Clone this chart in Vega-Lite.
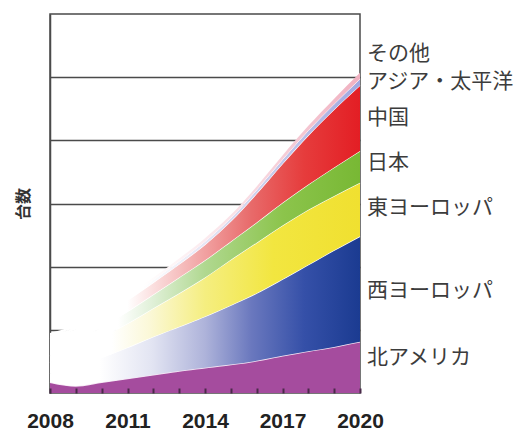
{
  "$schema": "https://vega.github.io/schema/vega-lite/v6.json",
  "autosize": "none",
  "width": 310,
  "height": 379,
  "padding": {"left": 50, "top": 14, "right": 168, "bottom": 38},
  "background": "white",
  "config": {"view": {"stroke": "#4a4a4a", "strokeWidth": 1.5}},
  "datasets": {
    "sales": [
      {"year": 2008, "region": "北アメリカ", "k": 1, "value": 0.17},
      {"year": 2009, "region": "北アメリカ", "k": 1, "value": 0.11},
      {"year": 2010, "region": "北アメリカ", "k": 1, "value": 0.17},
      {"year": 2011, "region": "北アメリカ", "k": 1, "value": 0.23},
      {"year": 2012, "region": "北アメリカ", "k": 1, "value": 0.29},
      {"year": 2013, "region": "北アメリカ", "k": 1, "value": 0.35},
      {"year": 2014, "region": "北アメリカ", "k": 1, "value": 0.40},
      {"year": 2015, "region": "北アメリカ", "k": 1, "value": 0.45},
      {"year": 2016, "region": "北アメリカ", "k": 1, "value": 0.51},
      {"year": 2017, "region": "北アメリカ", "k": 1, "value": 0.59},
      {"year": 2018, "region": "北アメリカ", "k": 1, "value": 0.66},
      {"year": 2019, "region": "北アメリカ", "k": 1, "value": 0.73},
      {"year": 2020, "region": "北アメリカ", "k": 1, "value": 0.81},
      {"year": 2008, "region": "西ヨーロッパ", "k": 2, "value": 0.13},
      {"year": 2009, "region": "西ヨーロッパ", "k": 2, "value": 0.31},
      {"year": 2010, "region": "西ヨーロッパ", "k": 2, "value": 0.39},
      {"year": 2011, "region": "西ヨーロッパ", "k": 2, "value": 0.49},
      {"year": 2012, "region": "西ヨーロッパ", "k": 2, "value": 0.60},
      {"year": 2013, "region": "西ヨーロッパ", "k": 2, "value": 0.70},
      {"year": 2014, "region": "西ヨーロッパ", "k": 2, "value": 0.81},
      {"year": 2015, "region": "西ヨーロッパ", "k": 2, "value": 0.94},
      {"year": 2016, "region": "西ヨーロッパ", "k": 2, "value": 1.07},
      {"year": 2017, "region": "西ヨーロッパ", "k": 2, "value": 1.21},
      {"year": 2018, "region": "西ヨーロッパ", "k": 2, "value": 1.37},
      {"year": 2019, "region": "西ヨーロッパ", "k": 2, "value": 1.53},
      {"year": 2020, "region": "西ヨーロッパ", "k": 2, "value": 1.67},
      {"year": 2008, "region": "東ヨーロッパ", "k": 3, "value": 0.18},
      {"year": 2009, "region": "東ヨーロッパ", "k": 3, "value": 0.25},
      {"year": 2010, "region": "東ヨーロッパ", "k": 3, "value": 0.32},
      {"year": 2011, "region": "東ヨーロッパ", "k": 3, "value": 0.38},
      {"year": 2012, "region": "東ヨーロッパ", "k": 3, "value": 0.45},
      {"year": 2013, "region": "東ヨーロッパ", "k": 3, "value": 0.53},
      {"year": 2014, "region": "東ヨーロッパ", "k": 3, "value": 0.62},
      {"year": 2015, "region": "東ヨーロッパ", "k": 3, "value": 0.72},
      {"year": 2016, "region": "東ヨーロッパ", "k": 3, "value": 0.80},
      {"year": 2017, "region": "東ヨーロッパ", "k": 3, "value": 0.85},
      {"year": 2018, "region": "東ヨーロッパ", "k": 3, "value": 0.87},
      {"year": 2019, "region": "東ヨーロッパ", "k": 3, "value": 0.86},
      {"year": 2020, "region": "東ヨーロッパ", "k": 3, "value": 0.85},
      {"year": 2008, "region": "日本", "k": 4, "value": 0.10},
      {"year": 2009, "region": "日本", "k": 4, "value": 0.13},
      {"year": 2010, "region": "日本", "k": 4, "value": 0.16},
      {"year": 2011, "region": "日本", "k": 4, "value": 0.19},
      {"year": 2012, "region": "日本", "k": 4, "value": 0.22},
      {"year": 2013, "region": "日本", "k": 4, "value": 0.25},
      {"year": 2014, "region": "日本", "k": 4, "value": 0.27},
      {"year": 2015, "region": "日本", "k": 4, "value": 0.29},
      {"year": 2016, "region": "日本", "k": 4, "value": 0.32},
      {"year": 2017, "region": "日本", "k": 4, "value": 0.36},
      {"year": 2018, "region": "日本", "k": 4, "value": 0.40},
      {"year": 2019, "region": "日本", "k": 4, "value": 0.45},
      {"year": 2020, "region": "日本", "k": 4, "value": 0.50},
      {"year": 2008, "region": "中国", "k": 5, "value": 0.28},
      {"year": 2009, "region": "中国", "k": 5, "value": 0.20},
      {"year": 2010, "region": "中国", "k": 5, "value": 0.18},
      {"year": 2011, "region": "中国", "k": 5, "value": 0.18},
      {"year": 2012, "region": "中国", "k": 5, "value": 0.19},
      {"year": 2013, "region": "中国", "k": 5, "value": 0.21},
      {"year": 2014, "region": "中国", "k": 5, "value": 0.25},
      {"year": 2015, "region": "中国", "k": 5, "value": 0.32},
      {"year": 2016, "region": "中国", "k": 5, "value": 0.46},
      {"year": 2017, "region": "中国", "k": 5, "value": 0.62},
      {"year": 2018, "region": "中国", "k": 5, "value": 0.78},
      {"year": 2019, "region": "中国", "k": 5, "value": 0.92},
      {"year": 2020, "region": "中国", "k": 5, "value": 1.04},
      {"year": 2008, "region": "アジア・太平洋", "k": 6, "value": 0.05},
      {"year": 2009, "region": "アジア・太平洋", "k": 6, "value": 0.04},
      {"year": 2010, "region": "アジア・太平洋", "k": 6, "value": 0.04},
      {"year": 2011, "region": "アジア・太平洋", "k": 6, "value": 0.04},
      {"year": 2012, "region": "アジア・太平洋", "k": 6, "value": 0.04},
      {"year": 2013, "region": "アジア・太平洋", "k": 6, "value": 0.045},
      {"year": 2014, "region": "アジア・太平洋", "k": 6, "value": 0.05},
      {"year": 2015, "region": "アジア・太平洋", "k": 6, "value": 0.05},
      {"year": 2016, "region": "アジア・太平洋", "k": 6, "value": 0.055},
      {"year": 2017, "region": "アジア・太平洋", "k": 6, "value": 0.065},
      {"year": 2018, "region": "アジア・太平洋", "k": 6, "value": 0.075},
      {"year": 2019, "region": "アジア・太平洋", "k": 6, "value": 0.085},
      {"year": 2020, "region": "アジア・太平洋", "k": 6, "value": 0.10},
      {"year": 2008, "region": "その他", "k": 7, "value": 0.04},
      {"year": 2009, "region": "その他", "k": 7, "value": 0.04},
      {"year": 2010, "region": "その他", "k": 7, "value": 0.04},
      {"year": 2011, "region": "その他", "k": 7, "value": 0.04},
      {"year": 2012, "region": "その他", "k": 7, "value": 0.04},
      {"year": 2013, "region": "その他", "k": 7, "value": 0.045},
      {"year": 2014, "region": "その他", "k": 7, "value": 0.05},
      {"year": 2015, "region": "その他", "k": 7, "value": 0.05},
      {"year": 2016, "region": "その他", "k": 7, "value": 0.055},
      {"year": 2017, "region": "その他", "k": 7, "value": 0.065},
      {"year": 2018, "region": "その他", "k": 7, "value": 0.075},
      {"year": 2019, "region": "その他", "k": 7, "value": 0.085},
      {"year": 2020, "region": "その他", "k": 7, "value": 0.10}
    ],
    "labels": [
      {"label": "その他", "year": 2020, "pos": 5.36},
      {"label": "アジア・太平洋", "year": 2020, "pos": 4.92},
      {"label": "中国", "year": 2020, "pos": 4.35},
      {"label": "日本", "year": 2020, "pos": 3.64},
      {"label": "東ヨーロッパ", "year": 2020, "pos": 2.93},
      {"label": "西ヨーロッパ", "year": 2020, "pos": 1.62},
      {"label": "北アメリカ", "year": 2020, "pos": 0.55}
    ]
  },
  "encoding": {
    "x": {
      "field": "year", "type": "quantitative",
      "scale": {"domain": [2008, 2020], "nice": false, "zero": false},
      "axis": {
        "title": null, "domain": false, "grid": false, "zindex": 1,
        "values": [2008, 2009, 2010, 2011, 2012, 2013, 2014, 2015, 2016, 2017, 2018, 2019, 2020],
        "labelExpr": "(datum.value - 2008) % 3 === 0 ? datum.value : ''",
        "ticks": true, "tickSize": -5, "tickWidth": 2, "tickColor": "#4a2a4a",
        "labelFont": "Liberation Sans", "labelFontSize": 21, "labelFontWeight": "bold",
        "labelColor": "#222222", "labelPadding": 22, "labelOverlap": false, "labelFlush": false
      }
    }
  },
  "layer": [
    {
      "data": {"name": "sales"},
      "transform": [
        {"stack": "value", "groupby": ["year"], "sort": [{"field": "k", "order": "ascending"}], "as": ["v0", "v1"]}
      ],
      "encoding": {
        "y": {
          "field": "v1", "type": "quantitative",
          "scale": {"domain": [0, 6], "nice": false, "zero": true},
          "axis": {
            "title": "台数", "titleFont": "Noto Sans CJK JP", "titleFontSize": 16, "titleFontWeight": "bold",
            "titleColor": "#333333", "titlePadding": 19,
            "labels": false, "ticks": false, "domain": true, "domainColor": "#4a4a4a", "domainWidth": 1.5,
            "grid": true, "gridColor": "#4a4a4a", "gridWidth": 1.5, "values": [1, 2, 3, 4, 5]
          }
        },
        "y2": {"field": "v0"}
      },
      "layer": [
        {
          "transform": [{"filter": "datum.k === 1"}],
          "mark": {"type": "area", "interpolate": "monotone", "fill": "#a54c9e", "fillOpacity": 1,
            "line": {"color": "#f6e6f4", "strokeWidth": 1.5}}
        },
        {
          "transform": [{"filter": "datum.k === 2"}],
          "mark": {"type": "area", "interpolate": "monotone", "fillOpacity": 1,
            "fill": {"gradient": "linear", "x1": 0, "y1": 0, "x2": 1, "y2": 0,
              "stops": [
                {"offset": 0, "color": "#ffffff"}, {"offset": 0.16, "color": "#ffffff"},
                {"offset": 0.33, "color": "#e2e4f2"}, {"offset": 0.5, "color": "#aeb3da"},
                {"offset": 0.65, "color": "#6a78be"}, {"offset": 0.82, "color": "#3550a8"},
                {"offset": 1, "color": "#1b3b91"}]},
            "line": {"color": "#ffffff", "strokeWidth": 1.2}}
        },
        {
          "transform": [{"filter": "datum.k === 3"}],
          "mark": {"type": "area", "interpolate": "monotone", "fillOpacity": 1,
            "fill": {"gradient": "linear", "x1": 0, "y1": 0, "x2": 1, "y2": 0,
              "stops": [
                {"offset": 0, "color": "#ffffff"}, {"offset": 0.2, "color": "#ffffff"},
                {"offset": 0.32, "color": "#fbf8d8"}, {"offset": 0.5, "color": "#f5ee80"},
                {"offset": 0.72, "color": "#f2e640"}, {"offset": 1, "color": "#f0e030"}]},
            "line": {"color": "#ffffff", "strokeWidth": 1.2}}
        },
        {
          "transform": [{"filter": "datum.k === 4"}],
          "mark": {"type": "area", "interpolate": "monotone", "fillOpacity": 1,
            "fill": {"gradient": "linear", "x1": 0, "y1": 0, "x2": 1, "y2": 0,
              "stops": [
                {"offset": 0, "color": "#ffffff"}, {"offset": 0.22, "color": "#ffffff"},
                {"offset": 0.33, "color": "#e0f0d8"}, {"offset": 0.5, "color": "#b0d890"},
                {"offset": 0.75, "color": "#8cc44c"}, {"offset": 1, "color": "#78b834"}]},
            "line": {"color": "#ffffff", "strokeWidth": 1.2}}
        },
        {
          "transform": [{"filter": "datum.k === 5"}],
          "mark": {"type": "area", "interpolate": "monotone", "fillOpacity": 1,
            "fill": {"gradient": "linear", "x1": 0, "y1": 0, "x2": 1, "y2": 0,
              "stops": [
                {"offset": 0, "color": "#ffffff"}, {"offset": 0.25, "color": "#ffffff"},
                {"offset": 0.33, "color": "#fbe0e0"}, {"offset": 0.48, "color": "#f2a8a8"},
                {"offset": 0.65, "color": "#e86a6a"}, {"offset": 0.82, "color": "#e63c3c"},
                {"offset": 1, "color": "#e31e24"}]},
            "line": {"color": "#ffffff", "strokeWidth": 1.2}}
        },
        {
          "transform": [{"filter": "datum.k === 6"}],
          "mark": {"type": "area", "interpolate": "monotone", "fillOpacity": 1,
            "fill": {"gradient": "linear", "x1": 0, "y1": 0, "x2": 1, "y2": 0,
              "stops": [
                {"offset": 0, "color": "#ffffff"}, {"offset": 0.3, "color": "#ffffff"},
                {"offset": 0.6, "color": "#d8d8f0"}, {"offset": 1, "color": "#a0a8e0"}]},
            "line": {"color": "#ffffff", "strokeWidth": 1}}
        },
        {
          "transform": [{"filter": "datum.k === 7"}],
          "mark": {"type": "area", "interpolate": "monotone", "fillOpacity": 1,
            "fill": {"gradient": "linear", "x1": 0, "y1": 0, "x2": 1, "y2": 0,
              "stops": [
                {"offset": 0, "color": "#ffffff"}, {"offset": 0.3, "color": "#ffffff"},
                {"offset": 0.6, "color": "#fae0e6"}, {"offset": 1, "color": "#f0b0c0"}]}}
        }
      ]
    },
    {
      "data": {"name": "labels"},
      "mark": {"type": "text", "align": "left", "baseline": "middle", "dx": 7,
        "font": "Noto Sans CJK JP", "fontSize": 21, "color": "#3c3c3c"},
      "encoding": {
        "y": {"field": "pos", "type": "quantitative"},
        "text": {"field": "label"}
      }
    }
  ]
}
